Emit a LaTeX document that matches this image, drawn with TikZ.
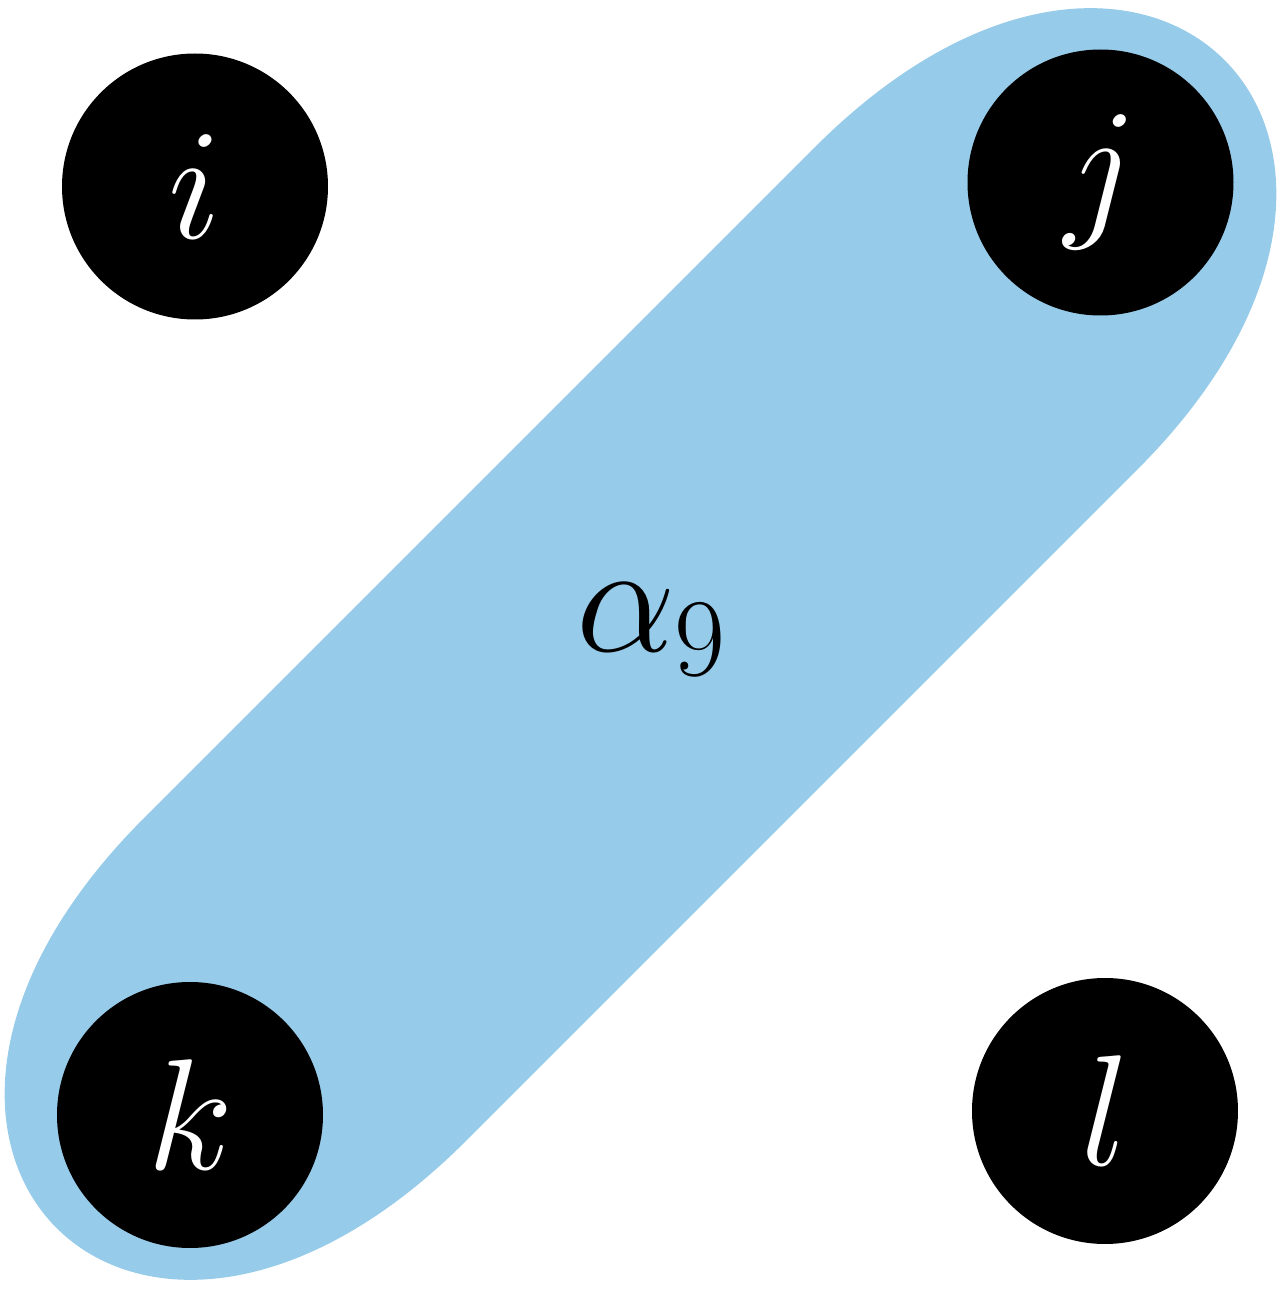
\RequirePackage{fix-cm}
\documentclass[tikz,border=0pt]{standalone}
\usepackage{amsmath}
\usetikzlibrary{positioning}
\definecolor{bandblue}{RGB}{151,203,234}

\begin{document}
\begin{tikzpicture}
        \useasboundingbox (0,0) rectangle (12.84,12.89);
        % Define styles for shapes
        \tikzstyle{vertex} = [circle, fill=black, text=white, minimum size=2.66cm, inner sep=0pt, font=\fontsize{45}{54}\selectfont]
        \tikzstyle{band} = [fill=bandblue]
        % Draw band
        \fill[band] (8.151,11.42) .. controls (11.46,14.729) and (14.684,11.505) .. (11.375,8.196)
            -- (4.659,1.48) .. controls (1.35,-1.829) and (-1.874,1.395) .. (1.435,4.704) -- cycle;
        % Draw nodes
        \node[vertex] (i) at (1.95, 11.025) {$i$};
        \node[vertex] (j) at (11.005, 11.065) {$j$};
        \node[vertex] (k) at (1.90, 1.74) {$k$};
        \node[vertex] (l) at (11.05, 1.78) {$l$};
        \node[anchor=base, font=\fontsize{45}{54}\selectfont] (alpha) at (6.52, 6.37) {$\alpha_9$};
\end{tikzpicture}
\end{document}
